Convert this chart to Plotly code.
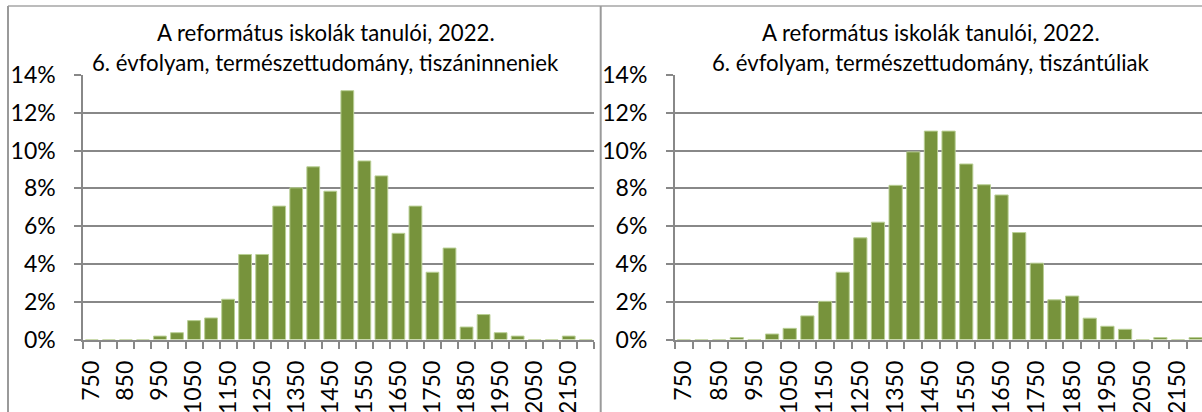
import plotly.graph_objects as go

# ---- data ----
categories = [750, 800, 850, 900, 950, 1000, 1050, 1100, 1150, 1200, 1250, 1300, 1350, 1400, 1450,
              1500, 1550, 1600, 1650, 1700, 1750, 1800, 1850, 1900, 1950, 2000, 2050, 2100, 2150, 2200]
tick_labels = ["750", "850", "950", "1050", "1150", "1250", "1350", "1450", "1550", "1650",
               "1750", "1850", "1950", "2050", "2150"]
left_values = [0, 0, 0, 0, 0.18, 0.36, 1.0, 1.14, 2.13, 4.5, 4.5, 7.06, 8.03, 9.14, 7.85,
               13.17, 9.45, 8.66, 5.62, 7.06, 3.56, 4.84, 0.66, 1.32, 0.36, 0.18, 0, 0, 0.18, 0]
right_values = [0, 0, 0, 0.1, 0, 0.29, 0.59, 1.25, 2.02, 3.56, 5.38, 6.21, 8.16, 9.93, 11.03,
                11.03, 9.29, 8.19, 7.65, 5.66, 4.04, 2.1, 2.3, 1.13, 0.7, 0.54, 0, 0.1, 0, 0.1]
title_line1 = "A református iskolák tanulói, 2022."
left_line2 = "6. évfolyam, természettudomány, tiszáninneniek"
right_line2 = "6. évfolyam, természettudomány, tiszántúliak"

W, H = 1202, 412
BAR = "#77933C"
GRID = "#888888"
FONT = "Lato"

def px(x):
    return x / W

def py(y):
    return (H - y) / H

fig = go.Figure()
fig.add_trace(go.Bar(x=categories, y=left_values, marker=dict(color=BAR, line=dict(color="#b9cf94", width=1)),
                     xaxis="x", yaxis="y", hoverinfo="skip"))
fig.add_trace(go.Bar(x=categories, y=right_values, marker=dict(color=BAR, line=dict(color="#b9cf94", width=1)),
                     xaxis="x2", yaxis="y2", hoverinfo="skip"))

step = categories[1] - categories[0]
boundaries = [c - step / 2 for c in categories] + [categories[-1] + step / 2]
tickvals = [int(t) for t in tick_labels]

def xaxis_cfg(domain, rng, anchor):
    return dict(domain=domain, range=rng, anchor=anchor, type="linear", automargin=False,
                tickmode="array", tickvals=tickvals, ticktext=tick_labels, ticks="",
                tickangle=-90, tickfont=dict(family=FONT, size=23, color="#000"),
                ticklabelstandoff=10,
                showline=True, linecolor=GRID, linewidth=2, showgrid=False, zeroline=False,
                minor=dict(tickmode="array", tickvals=boundaries, ticks="outside", ticklen=7,
                           tickwidth=2, tickcolor=GRID, showgrid=False))

def yaxis_cfg(domain, anchor):
    return dict(domain=domain, range=[0, 14], dtick=2, tick0=0, ticksuffix="%", anchor=anchor,
                automargin=False,
                ticks="outside", ticklen=7, tickwidth=2, tickcolor=GRID,
                tickfont=dict(family=FONT, size=23, color="#000"), ticklabelstandoff=14,
                showgrid=True, gridcolor=GRID, gridwidth=2, showline=True, linecolor=GRID,
                linewidth=2, zeroline=False)

ydom = [py(339.5), py(75)]
right_end = 725 + step * ((W - 675) / 17.65)
fig.update_layout(
    width=W, height=H, margin=dict(l=0, r=0, t=0, b=0, pad=0, autoexpand=False),
    paper_bgcolor="white", plot_bgcolor="white", showlegend=False,
    bargap=0.25,
    xaxis=xaxis_cfg([px(83.3), px(594.3)], [725, 2225], "y"),
    yaxis=yaxis_cfg(ydom, "x"),
    xaxis2=xaxis_cfg([px(675), 1.0], [725, right_end], "y2"),
    yaxis2=yaxis_cfg(ydom, "x2"),
)

for cx, l2 in [(325.5, left_line2), (931, right_line2)]:
    fig.add_annotation(text=title_line1, x=px(cx), y=py(33), xref="paper", yref="paper",
                       xanchor="center", yanchor="middle", showarrow=False,
                       font=dict(family=FONT, size=22.2, color="#000"))
    fig.add_annotation(text=l2, x=px(cx), y=py(62), xref="paper", yref="paper",
                       xanchor="center", yanchor="middle", showarrow=False,
                       font=dict(family=FONT, size=22.2, color="#000"))

# chart borders
fig.add_shape(type="line", xref="paper", yref="paper", x0=px(8), x1=1, y0=py(6), y1=py(6),
              line=dict(color="#a6a6a6", width=1.5))
fig.add_shape(type="line", xref="paper", yref="paper", x0=px(8), x1=px(8), y0=py(6), y1=0,
              line=dict(color="#9a9a9a", width=2))
fig.add_shape(type="line", xref="paper", yref="paper", x0=px(600.7), x1=px(600.7), y0=py(6), y1=0,
              line=dict(color="#9a9a9a", width=2))

fig.write_html("out.html", config={"displayModeBar": False},
               post_script="document.body.style.margin='0';document.body.style.overflow='hidden';")
